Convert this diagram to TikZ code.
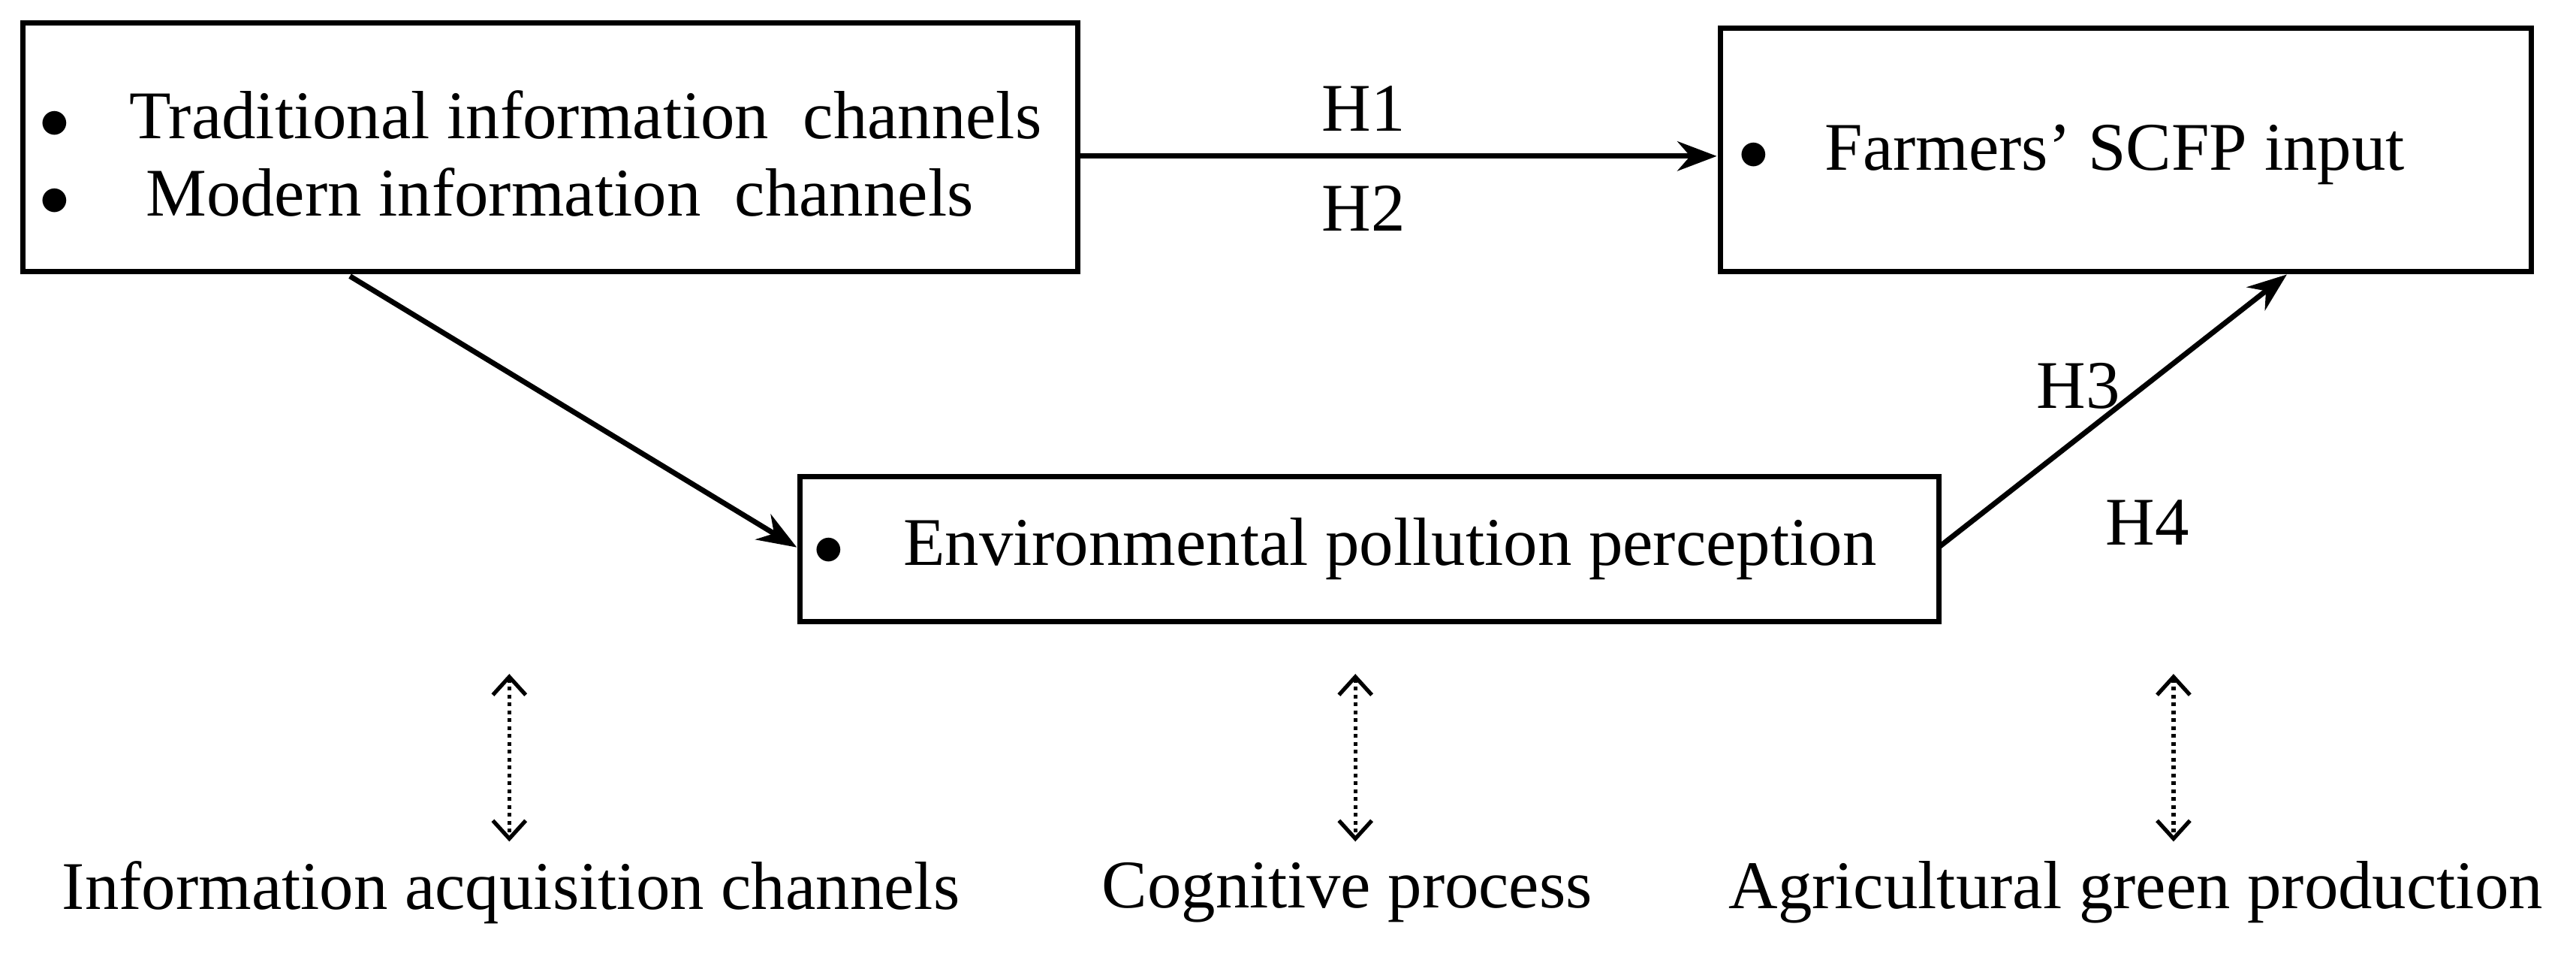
\documentclass[tikz,border=0pt]{standalone}
\usepackage{fontspec}
\setmainfont{Liberation Serif}
\usetikzlibrary{arrows.meta}
\begin{document}
\begin{tikzpicture}[x=1pt,y=-1pt,
  box/.style={draw,line width=3.2pt},
  txt/.style={font=\fontsize{41.5}{46}\selectfont,inner sep=0pt},
  arr/.style={line width=3.2pt,-{Stealth[length=24pt,width=18pt]}},
  darr/.style={line width=2.4pt,dash pattern=on 2.4pt off 2.4pt,{Straight Barb[length=11pt,width=20pt,line width=2.4pt]}-{Straight Barb[length=11pt,width=20pt,line width=2.4pt]}}]
\useasboundingbox (0,0) rectangle (1568,580);
\node[box,minimum width=642pt,minimum height=151pt] (b1) at (335,89.5) {};
\node[box,minimum width=494pt,minimum height=148pt] (b2) at (1294,91) {};
\node[box,minimum width=693pt,minimum height=88pt] (b3) at (833.5,334) {};
\newcommand{\bul}{\scalebox{1.5}{$\bullet$}}
\node[txt,anchor=west] (t1) at (24,70) {\bul\hspace{36pt}Traditional information\ \ channels};
\node[txt,anchor=west] (t2) at (24,117) {\bul\hspace{46pt}Modern information\ \ channels};
\node[txt,anchor=west] (t3) at (1058,94) {\bul\hspace{34pt}Farmers’ SCFP input};
\node[txt,anchor=west] (t4) at (495,334) {\bul\hspace{36pt}Environmental pollution perception};
\coordinate (a1) at (656,95); \coordinate (a2) at (1045,95);
\draw[arr] (a1) -- (a2);
\coordinate (c1) at (213,168); \coordinate (c2) at (485,333);
\draw[arr] (c1) -- (c2);
\coordinate (d1) at (1180,333); \coordinate (d2) at (1392,167);
\draw[arr] (d1) -- (d2);
\node[txt] (h1) at (830,66) {H1};
\node[txt] (h2) at (830,127) {H2};
\node[txt] (h3) at (1265,235) {H3};
\node[txt] (h4) at (1307,318) {H4};
\foreach \x/\n in {310/p,825/q,1323/r}{
  \coordinate (\n1) at (\x,410); \coordinate (\n2) at (\x,512);
  \draw[darr] (\n1) -- (\n2);}
\node[txt] (l1) at (311,543) {Information acquisition channels};
\node[txt] (l2) at (820,543) {Cognitive process};
\node[txt] (l3) at (1300,543) {Agricultural green production};
\end{tikzpicture}
\end{document}
